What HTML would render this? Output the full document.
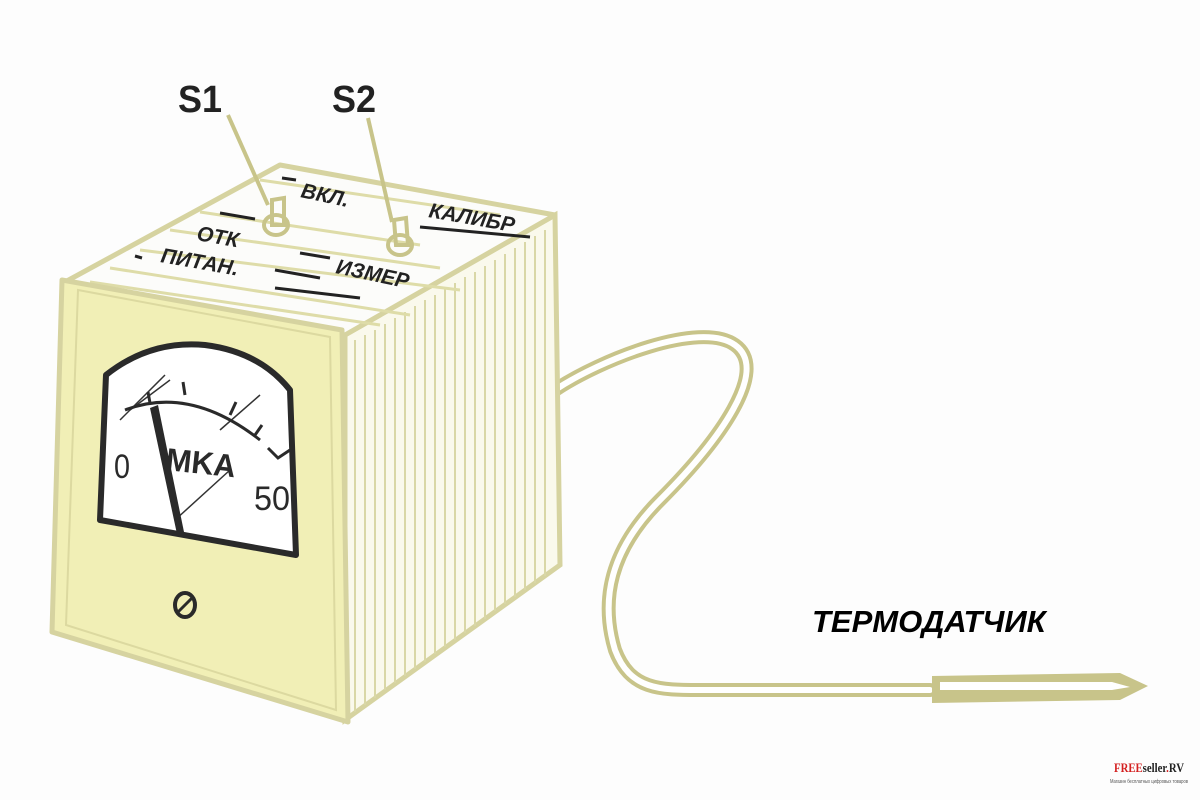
<!DOCTYPE html>
<html><head><meta charset="utf-8"><style>
html,body{margin:0;padding:0;background:#fff;}
svg{display:block}
</style></head><body>
<svg width="1200" height="800" viewBox="0 0 1200 800" xmlns="http://www.w3.org/2000/svg" font-family="Liberation Sans, sans-serif">
<rect width="1200" height="800" fill="#fdfdfd"/>
<!-- cable -->
<path d="M555,390 C600,360 700,320 735,345 C770,370 720,440 660,500 C610,550 600,600 615,650 C630,690 660,690 700,690 L930,690" fill="none" stroke="#c8c48a" stroke-width="14" stroke-linecap="round"/>
<path d="M555,390 C600,360 700,320 735,345 C770,370 720,440 660,500 C610,550 600,600 615,650 C630,690 660,690 700,690 L930,690" fill="none" stroke="#fff" stroke-width="6" stroke-linecap="round"/>
<!-- probe -->
<polygon points="932,676 1120,673 1148,686 1120,700 932,703" fill="#c8c48a"/>
<polygon points="940,682 1112,682 1130,687 1112,690 940,690" fill="#fff"/>
<!-- right face -->
<polygon points="345,335 555,215 560,565 345,720" fill="#faf9ec" stroke="#d6d3a0" stroke-width="5"/>
<g stroke="#d9d7a6" stroke-width="2">
<line x1="355" y1="340" x2="355" y2="712"/><line x1="365" y1="335" x2="365" y2="705"/><line x1="375" y1="330" x2="375" y2="698"/><line x1="385" y1="324" x2="385" y2="690"/><line x1="395" y1="318" x2="395" y2="683"/><line x1="405" y1="312" x2="405" y2="676"/><line x1="415" y1="306" x2="415" y2="669"/><line x1="425" y1="300" x2="425" y2="662"/><line x1="435" y1="295" x2="435" y2="654"/><line x1="445" y1="289" x2="445" y2="647"/><line x1="455" y1="283" x2="455" y2="640"/><line x1="465" y1="277" x2="465" y2="633"/><line x1="475" y1="272" x2="475" y2="626"/><line x1="485" y1="266" x2="485" y2="619"/><line x1="495" y1="260" x2="495" y2="611"/><line x1="505" y1="254" x2="505" y2="604"/><line x1="515" y1="248" x2="515" y2="597"/><line x1="525" y1="242" x2="525" y2="590"/><line x1="535" y1="236" x2="535" y2="583"/><line x1="545" y1="230" x2="545" y2="576"/>
</g>
<!-- top face -->
<polygon points="65,282 280,165 555,215 345,335" fill="#fcfcfa" stroke="#d6d3a0" stroke-width="5" stroke-linejoin="round"/>
<g stroke="#dedca8" stroke-width="3">
<line x1="200" y1="212" x2="420" y2="245"/><line x1="170" y1="230" x2="440" y2="268"/><line x1="140" y1="250" x2="460" y2="290"/><line x1="110" y1="268" x2="410" y2="315"/><line x1="90" y1="282" x2="380" y2="325"/><line x1="260" y1="180" x2="500" y2="215"/>
</g>
<g stroke="#222" stroke-width="3">
<line x1="282" y1="178" x2="296" y2="180"/><line x1="220" y1="213" x2="255" y2="219"/><line x1="300" y1="253" x2="330" y2="258"/><line x1="275" y1="270" x2="320" y2="278"/><line x1="275" y1="288" x2="360" y2="298"/><line x1="420" y1="227" x2="530" y2="237"/><line x1="135" y1="256" x2="142" y2="258"/>
</g>
<g font-weight="bold" font-style="italic" fill="#222" font-size="21">
<text x="300" y="197" transform="rotate(12 300 197)">ВКЛ.</text>
<text x="428" y="217" transform="rotate(10 428 217)">КАЛИБР</text>
<text x="196" y="240" transform="rotate(10 196 240)">ОТК</text>
<text x="160" y="262" transform="rotate(10 160 262)">ПИТАН.</text>
<text x="335" y="273" transform="rotate(12 335 273)">ИЗМЕР</text>
</g>
<!-- switches -->
<g fill="none" stroke="#c8c48a" stroke-width="4">
<ellipse cx="276" cy="225" rx="12" ry="10"/><path d="M272,200 L284,198 L284,225 L272,225Z"/>
<ellipse cx="400" cy="245" rx="12" ry="10"/><path d="M394,220 L406,218 L408,245 L396,245Z"/>
<line x1="228" y1="115" x2="268" y2="205"/><line x1="368" y1="118" x2="392" y2="222"/>
</g>
<text x="178" y="112" font-size="38" font-weight="bold" fill="#222" textLength="44" lengthAdjust="spacingAndGlyphs">S1</text>
<text x="332" y="112" font-size="38" font-weight="bold" fill="#222" textLength="44" lengthAdjust="spacingAndGlyphs">S2</text>
<!-- front face -->
<polygon points="62,280 342,330 348,722 52,632" fill="#f1efb6" stroke="#d6d3a0" stroke-width="5" stroke-linejoin="round"/>
<polygon points="78,290 330,337 336,710 66,625" fill="none" stroke="#dcd9a0" stroke-width="2"/>
<!-- meter -->
<path d="M100,520 L106,375 Q150,340 205,345 Q260,352 290,390 L296,555 Z" fill="#fff" stroke="#2a2a2a" stroke-width="6" stroke-linejoin="round"/>
<g stroke="#333" stroke-width="1.5"><line x1="120" y1="420" x2="165" y2="375"/><line x1="130" y1="410" x2="170" y2="380"/><line x1="220" y1="430" x2="260" y2="395"/><line x1="175" y1="520" x2="230" y2="470"/></g>
<path d="M125,410 Q190,385 260,440" fill="none" stroke="#2a2a2a" stroke-width="3"/>
<g stroke="#2a2a2a" stroke-width="3"><line x1="150" y1="403" x2="148" y2="392"/><line x1="185" y1="395" x2="183" y2="382"/><line x1="230" y1="415" x2="236" y2="402"/><line x1="255" y1="435" x2="262" y2="425"/></g>
<path d="M268,448 L278,458 L290,450" fill="none" stroke="#2a2a2a" stroke-width="3"/>
<polygon points="150,408 158,405 184,532 177,534" fill="#2a2a2a"/>
<text x="114" y="478" font-size="34" fill="#2a2a2a" textLength="16" lengthAdjust="spacingAndGlyphs">0</text>
<text x="165" y="470" font-size="32" font-weight="bold" fill="#2a2a2a" transform="rotate(6 165 470)" textLength="70" lengthAdjust="spacingAndGlyphs">MKA</text>
<text x="254" y="510" font-size="34" fill="#2a2a2a" textLength="36" lengthAdjust="spacingAndGlyphs">50</text>
<ellipse cx="185" cy="605" rx="10" ry="12" fill="none" stroke="#2a2a2a" stroke-width="4"/>
<line x1="178" y1="612" x2="192" y2="598" stroke="#2a2a2a" stroke-width="3"/>
<text x="812" y="632" font-size="31" font-weight="bold" font-style="italic" fill="#000">ТЕРМОДАТЧИК</text>
<text x="1114" y="772" font-size="13" font-weight="bold" fill="#d42020" font-family="Liberation Serif, serif" textLength="70" lengthAdjust="spacingAndGlyphs">FREE<tspan fill="#222">seller</tspan><tspan fill="#d42020">.</tspan><tspan fill="#222">RV</tspan></text>
<text x="1110" y="783" font-size="5" fill="#555" textLength="78" lengthAdjust="spacingAndGlyphs">Магазин бесплатных цифровых товаров</text>
</svg>
</body></html>
